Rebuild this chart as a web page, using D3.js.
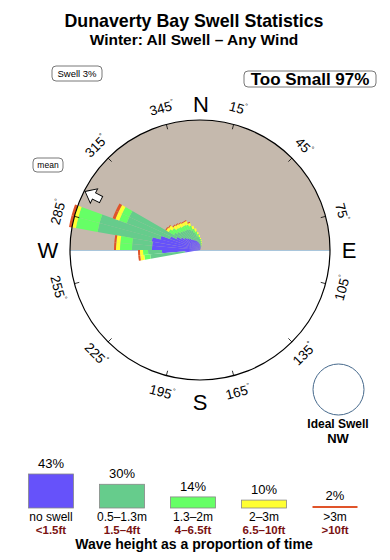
<!DOCTYPE html>
<html>
<head>
<meta charset="utf-8">
<style>
  body { margin: 0; background: #fff; }
  svg text { font-family: "Liberation Sans", Arial, Helvetica, sans-serif; }
</style>
</head>
<body>
<svg id="chart"></svg>
<script src="https://cdnjs.cloudflare.com/ajax/libs/d3/7.8.5/d3.min.js"></script>
<script>

  // swell direction bins (start of each 5 degree bin)
  var directions = [260, 265, 270, 275, 280, 285, 290, 295, 300, 305, 310, 315,
                    320, 325, 330, 335, 340, 345, 350, 355, 0, 5, 10, 15];

  // relative frequency per bin for each wave height band
  var noSwell   = [1.5, 3.8, 4.8, 4.8, 4.9, 4.1, 3.2, 2.6, 2.2, 1.9, 1.7, 1.5,
                   1.3, 1.2, 1.1, 1.0, 0.9, 0.8, 0.7, 0.6, 0.5, 0.4, 0.3, 0.2];
  var small     = [3.5, 1.4, 2.0, 2.0, 5.5, 6.3, 4.6, 5.2, 0.8, 0.9, 0.9, 1.0,
                   1.1, 1.2, 1.2, 1.1, 0.9, 0.7, 0.6, 0.5, 0.4, 0.3, 0.3, 0.2];
  var medium    = [0.6, 0.5, 1.2, 1.2, 2.2, 2.2, 0.8, 0.8, 0.6, 0.6, 0.5, 0.5,
                   0.5, 0.5, 0.5, 0.5, 0.4, 0.4, 0.3, 0.2, 0.2, 0.2, 0.1, 0.1];
  var large     = [0.4, 0.3, 0.4, 0.4, 0.4, 0.4, 0.4, 0.4, 0.3, 0.4, 0.4, 0.4,
                   0.4, 0.3, 0.4, 0.3, 0.3, 0.3, 0.2, 0.2, 0.1, 0.1, 0.1, 0.1];
  var huge      = [0.2, 0.2, 0.2, 0.2, 0.3, 0.3, 0.3, 0.3, 0.1, 0.1, 0.1, 0.1,
                   0.1, 0.1, 0.1, 0.1, 0.0, 0.0, 0.0, 0.0, 0.0, 0.0, 0.0, 0.0];

  var meanDirection = 297;

  // legend
  var legendPct    = [43, 30, 14, 10, 2];
  var legendLabels = ["no swell", "0.5\u20131.3m", "1.3\u20132m", "2\u20133m", ">3m"];
  var legendFeet   = ["<1.5ft", "1.5\u20134ft", "4\u20136.5ft", "6.5\u201310ft", ">10ft"];
  var bandColors   = ["#6652fa", "#66cc8c", "#66ff66", "#ffff33", "#e0542a"];

  var degreeTicks  = [15, 45, 75, 105, 135, 165, 195, 225, 255, 285, 315, 345];

  var width = 390, height = 560,
      cx = 200, cy = 250, R = 130;

  var svg = d3.select("#chart")
              .attr("width", width)
              .attr("height", height);

  // titles
  svg.append("text").attr("x", 194).attr("y", 27)
     .attr("text-anchor", "middle").attr("font-size", 17.8).attr("font-weight", "bold")
     .text("Dunaverty Bay Swell Statistics");
  svg.append("text").attr("x", 194).attr("y", 45)
     .attr("text-anchor", "middle").attr("font-size", 15.5).attr("font-weight", "bold")
     .text("Winter: All Swell \u2013 Any Wind");

  // small boxed notes
  function note(x, y, w, h, size, weight, txt) {
    svg.append("rect").attr("x", x).attr("y", y).attr("width", w).attr("height", h)
       .attr("rx", 4).attr("fill", "#fff").attr("stroke", "#555").attr("stroke-width", 0.8);
    svg.append("text").attr("x", x + w / 2).attr("y", y + h / 2)
       .attr("dy", "0.36em").attr("text-anchor", "middle")
       .attr("font-size", size).attr("font-weight", weight).text(txt);
  }
  note(52, 66, 50, 15, 9.5, "normal", "Swell 3%");
  note(244, 71, 132, 16, 17, "bold", "Too Small 97%");
  note(33, 158, 30, 14, 8.5, "normal", "mean");

  var g = svg.append("g").attr("transform", "translate(" + cx + "," + cy + ")");

  // land shading (upper half) and horizon
  g.append("path")
   .attr("d", d3.arc().innerRadius(0).outerRadius(R).startAngle(-Math.PI / 2).endAngle(Math.PI / 2)())
   .attr("fill", "#c5b9ad");
  g.append("line").attr("x1", -R).attr("x2", R).attr("y1", 0.5).attr("y2", 0.5)
   .attr("stroke", "#a9c6dc").attr("stroke-width", 1);

  // stacked rose
  var keys = ["noSwell", "small", "medium", "large", "huge"];
  var table = directions.map(function(d, i) {
    return { dir: d, noSwell: noSwell[i], small: small[i], medium: medium[i], large: large[i], huge: huge[i] };
  });
  var series = d3.stack().keys(keys)(table);
  var r = d3.scaleLinear().domain([0, 13]).range([0, R]);
  var color = d3.scaleOrdinal().domain(keys).range(bandColors);
  var toRad = function(a) { return a * Math.PI / 180; };
  var wedge = d3.arc()
                .innerRadius(function(d) { return r(d[0]); })
                .outerRadius(function(d) { return r(d[1]); })
                .startAngle(function(d) { return toRad(d.data.dir); })
                .endAngle(function(d) { return toRad(d.data.dir + 5); });

  g.selectAll("g.band").data(series).enter().append("g")
   .attr("fill", function(s) { return color(s.key); })
   .selectAll("path").data(function(s) { return s.filter(function(d) { return d[1] > d[0]; }); })
   .enter().append("path").attr("d", wedge);

  // compass circle
  g.append("circle").attr("r", R).attr("fill", "none").attr("stroke", "#000").attr("stroke-width", 1.2);

  // degree ticks and labels
  degreeTicks.forEach(function(a) {
    var t = toRad(a), sx = Math.sin(t), sy = -Math.cos(t);
    g.append("line")
     .attr("x1", sx * (R - 5)).attr("y1", sy * (R - 5))
     .attr("x2", sx * R).attr("y2", sy * R)
     .attr("stroke", "#000").attr("stroke-width", 0.8);
    var rot = ((a + 90) % 180) - 90;
    var lbl = g.append("text")
     .attr("transform", "translate(" + (sx * 147) + "," + (sy * 147) + ") rotate(" + rot + ")")
     .attr("text-anchor", "middle").attr("dy", "0.35em").attr("font-size", 13.5);
    lbl.append("tspan").text(a);
    lbl.append("tspan").attr("font-size", 7).attr("dy", "-0.9em").text("\u00b0");
  });

  // cardinal points
  [["N", 201, 112], ["S", 200, 410], ["W", 48, 258], ["E", 349, 258]].forEach(function(c) {
    svg.append("text").attr("x", c[1]).attr("y", c[2]).attr("text-anchor", "middle")
       .attr("font-size", 22).text(c[0]);
  });

  // mean direction arrow
  var arrow = [[129, 0], [119, -8], [119, -3.5], [111, -3.5], [111, 3.5], [119, 3.5], [119, 8]];
  g.append("path")
   .attr("d", "M" + arrow.join("L") + "Z")
   .attr("transform", "rotate(" + (meanDirection - 90) + ")")
   .attr("fill", "#fff").attr("stroke", "#000").attr("stroke-width", 0.9);

  // ideal swell
  svg.append("circle").attr("cx", 338.5).attr("cy", 389.5).attr("r", 25.5)
     .attr("fill", "#fff").attr("stroke", "#46698c").attr("stroke-width", 1);
  svg.append("text").attr("x", 338).attr("y", 428).attr("text-anchor", "middle")
     .attr("font-size", 12).attr("font-weight", "bold").text("Ideal Swell");
  svg.append("text").attr("x", 338).attr("y", 443).attr("text-anchor", "middle")
     .attr("font-size", 13).attr("font-weight", "bold").text("NW");

  // legend
  var lx = d3.scalePoint().domain(legendLabels).range([51, 335]);
  var lh = d3.scaleLinear().domain([0, 43]).range([0, 34]);
  var base = 508, boxW = 45;
  var leg = svg.append("g").selectAll("g").data(legendLabels).enter().append("g")
               .attr("transform", function(d) { return "translate(" + lx(d) + ",0)"; });
  leg.append("rect")
     .attr("x", -boxW / 2).attr("width", boxW)
     .attr("y", function(d, i) { return base - Math.max(lh(legendPct[i]), 2); })
     .attr("height", function(d, i) { return Math.max(lh(legendPct[i]), 2); })
     .attr("fill", function(d, i) { return bandColors[i]; })
     .attr("stroke", function(d, i) { return i < 4 ? "#888" : "none"; })
     .attr("stroke-width", 0.8);
  leg.append("text")
     .attr("y", function(d, i) { return base - Math.max(lh(legendPct[i]), 2) - 6; })
     .attr("text-anchor", "middle").attr("font-size", 13)
     .text(function(d, i) { return legendPct[i] + "%"; });
  leg.append("text").attr("y", 521).attr("text-anchor", "middle").attr("font-size", 12)
     .text(function(d) { return d; });
  leg.append("text").attr("y", 534).attr("text-anchor", "middle").attr("font-size", 11.5)
     .attr("font-weight", "bold").attr("fill", "#7a1212")
     .text(function(d, i) { return legendFeet[i]; });

  svg.append("text").attr("x", 194).attr("y", 549).attr("text-anchor", "middle")
     .attr("font-size", 14).attr("font-weight", "bold")
     .text("Wave height as a proportion of time");

</script>
</body>
</html>
